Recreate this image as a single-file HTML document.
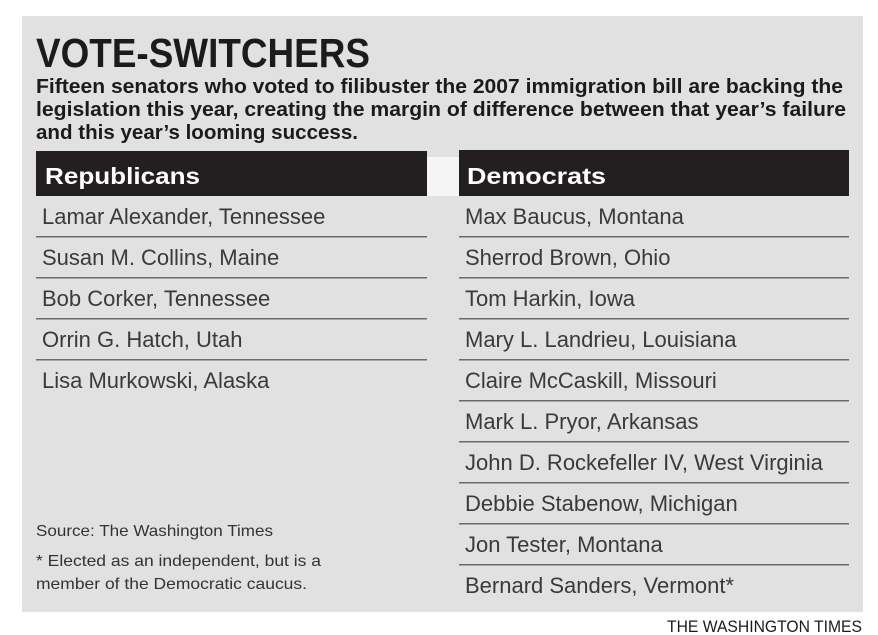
<!DOCTYPE html>
<html><head><meta charset="utf-8"><style>
html,body{margin:0;padding:0;background:#fff;}
svg{display:block;font-family:"Liberation Sans",sans-serif;}
</style></head><body>
<svg width="878" height="635" viewBox="0 0 878 635">
<rect x="22" y="16" width="841" height="596" fill="#e1e1e1"/>
<text x="36" y="67" font-size="41" font-weight="bold" fill="#1c1a1b" textLength="334" lengthAdjust="spacingAndGlyphs">VOTE-SWITCHERS</text>
<g font-size="20" font-weight="bold" fill="#1c1a1b">
<text x="36" y="93" textLength="807" lengthAdjust="spacingAndGlyphs">Fifteen senators who voted to filibuster the 2007 immigration bill are backing the</text>
<text x="36" y="116" textLength="810" lengthAdjust="spacingAndGlyphs">legislation this year, creating the margin of difference between that year’s failure</text>
<text x="36" y="139" textLength="322" lengthAdjust="spacingAndGlyphs">and this year’s looming success.</text>
</g>
<rect x="427" y="157" width="32" height="39" fill="#f5f5f5"/>
<rect x="36" y="151" width="391" height="45" fill="#231f20"/>
<rect x="459" y="150" width="390" height="46" fill="#231f20"/>
<text x="45" y="184" font-size="23" font-weight="bold" fill="#fff" textLength="155" lengthAdjust="spacingAndGlyphs">Republicans</text>
<text x="467" y="184" font-size="23" font-weight="bold" fill="#fff" textLength="139" lengthAdjust="spacingAndGlyphs">Democrats</text>
<g id="rows"></g>
<g font-size="16" fill="#333">
<text x="36" y="536" textLength="237" lengthAdjust="spacingAndGlyphs">Source: The Washington Times</text>
<text x="36" y="566" textLength="285" lengthAdjust="spacingAndGlyphs">* Elected as an independent, but is a</text>
<text x="36" y="589" textLength="271" lengthAdjust="spacingAndGlyphs">member of the Democratic caucus.</text>
</g>
<text x="862" y="632" font-size="17" fill="#1c1a1b" text-anchor="end" textLength="195" lengthAdjust="spacingAndGlyphs">THE WASHINGTON TIMES</text>
</svg>
<script>
const republicans = ["Lamar Alexander, Tennessee","Susan M. Collins, Maine","Bob Corker, Tennessee","Orrin G. Hatch, Utah","Lisa Murkowski, Alaska"];
const democrats = ["Max Baucus, Montana","Sherrod Brown, Ohio","Tom Harkin, Iowa","Mary L. Landrieu, Louisiana","Claire McCaskill, Missouri","Mark L. Pryor, Arkansas","John D. Rockefeller IV, West Virginia","Debbie Stabenow, Michigan","Jon Tester, Montana","Bernard Sanders, Vermont*"];
const NS = "http://www.w3.org/2000/svg";
const g = document.getElementById('rows');
function col(list, x0, x1, tx, side) {
  list.forEach((name, i) => {
    const t = document.createElementNS(NS, 'text');
    t.setAttribute('x', tx);
    t.setAttribute('y', 224 + i * 41);
    t.setAttribute('font-size', '22');
    t.setAttribute('fill', '#3a3a3a');
    t.textContent = name;
    
    
    g.appendChild(t);
    if (i < list.length - 1) {
      const l = document.createElementNS(NS, 'rect');
      l.setAttribute('x', x0);
      l.setAttribute('y', 236 + i * 41);
      l.setAttribute('width', x1 - x0);
      l.setAttribute('height', 1.5);
      l.setAttribute('fill', '#6b6b6b');
      
      
      g.appendChild(l);
    }
  });
}
col(republicans, 36, 427, 42, 'republican');
col(democrats, 459, 849, 465, 'democrat');
</script>
</body></html>
